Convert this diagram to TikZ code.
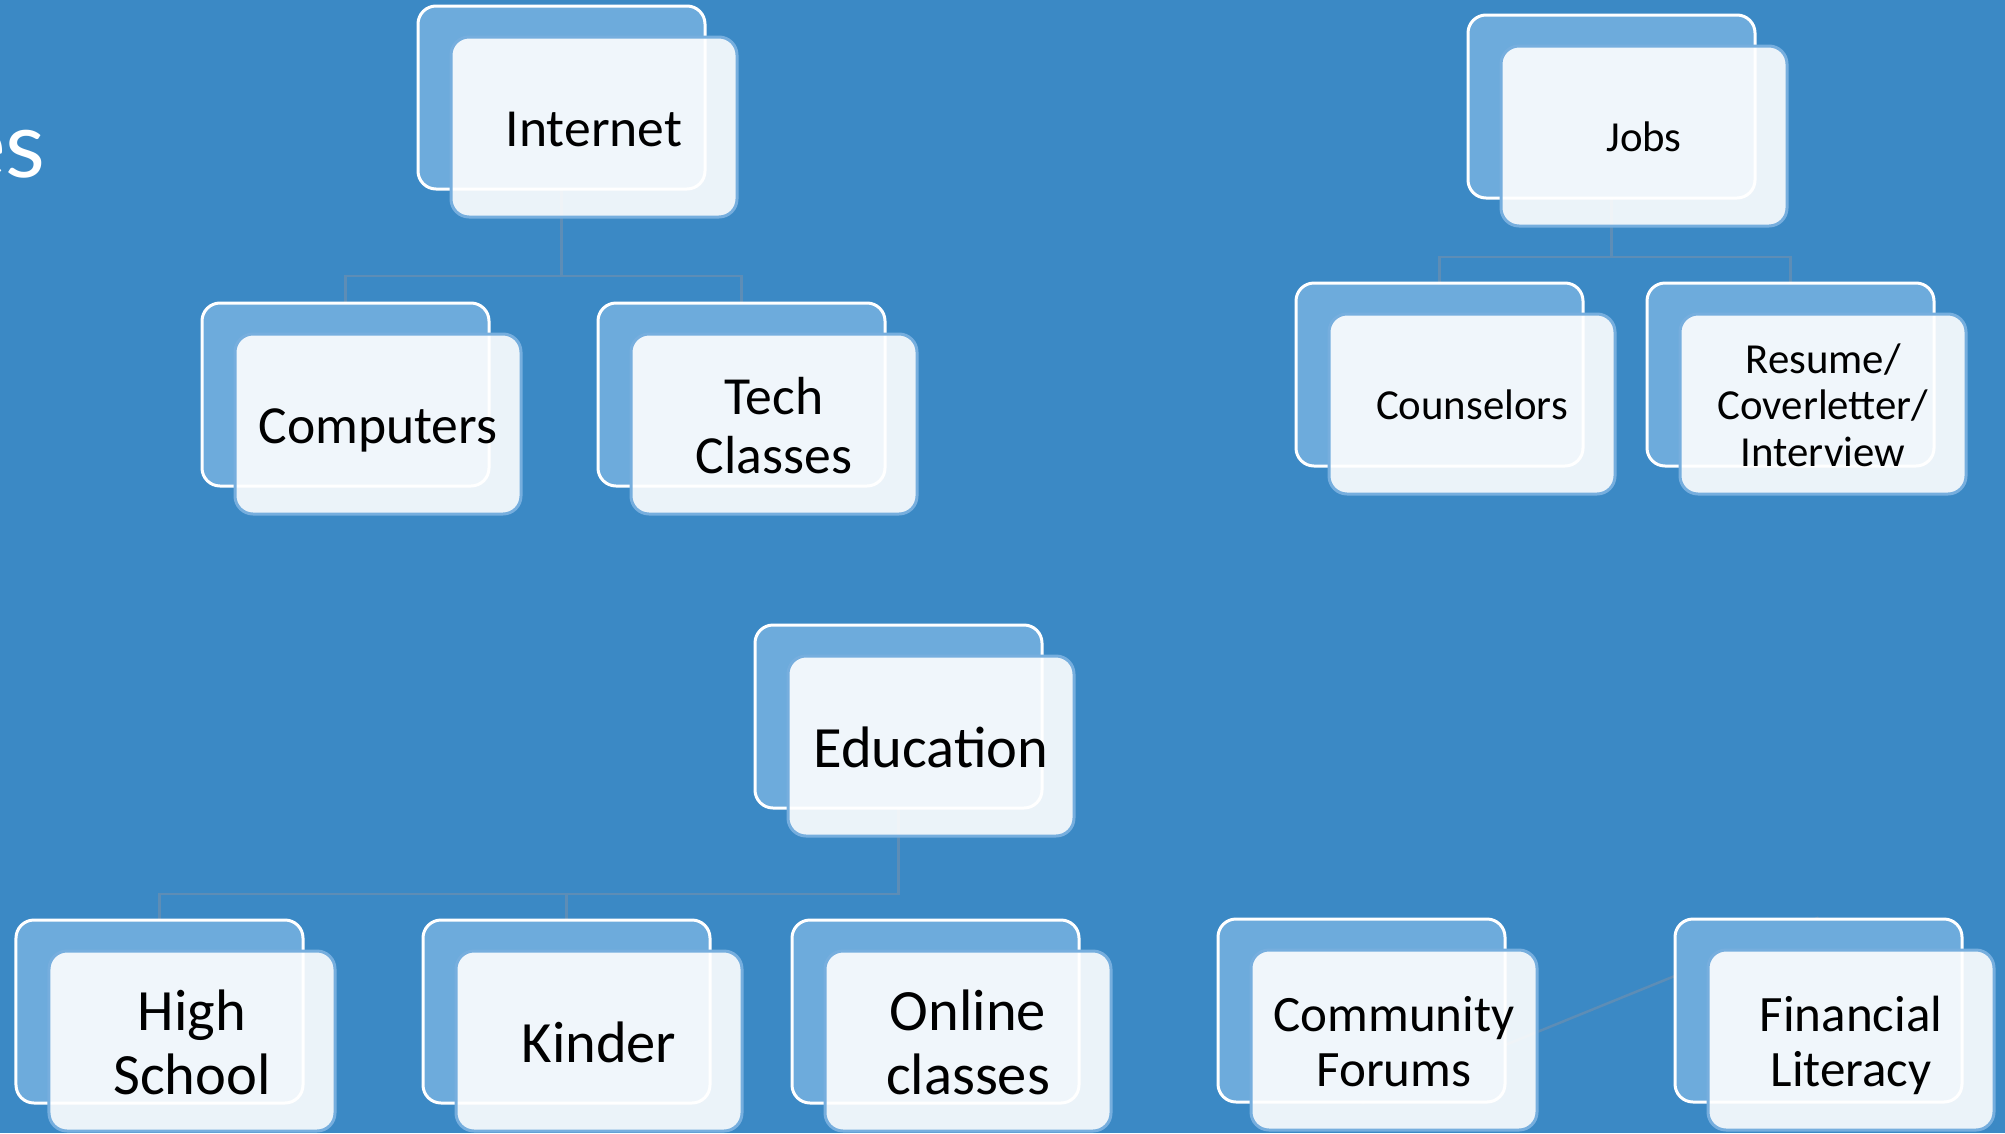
\documentclass[tikz,border=0pt]{standalone}
\usepackage{fontspec}
\setmainfont{Carlito}
\newfontfamily\titlefont{Lato}
\usetikzlibrary{backgrounds}
\definecolor{bgblue}{HTML}{3B89C5}
\definecolor{backfill}{HTML}{6DABDC}
\definecolor{frontline}{HTML}{76AEDE}
\definecolor{connline}{HTML}{5D8DB6}
\newcommand\lstrut{\rule[-0.165em]{0pt}{1.07em}}
\tikzset{
  backbox/.style={draw=white, line width=3bp, fill=backfill, rounded corners=18bp,
    minimum width=287bp, minimum height=183bp, inner sep=0pt},
  frontbox/.style={draw=frontline, line width=3bp, fill=white, fill opacity=0.9,
    text opacity=1, text=black, rounded corners=18bp,
    minimum width=286bp, minimum height=180bp, inner sep=0pt, align=center},
  conn/.style={draw=connline, line width=2.5bp},
  fA/.style={font=\fontsize{53.6bp}{56.5bp}\selectfont},
  fB/.style={font=\fontsize{42.8bp}{45.5bp}\selectfont},
  fC/.style={font=\fontsize{58.5bp}{61bp}\selectfont},
  fD/.style={font=\fontsize{51bp}{53.5bp}\selectfont},
  titletext/.style={anchor=base east, inner sep=0pt, text=white,
    font=\titlefont\fontsize{92bp}{92bp}\selectfont}
}
\newcommand\sabox[5]{%
  \node[backbox] (#1-b) at (#2+143.5,#3+91.5) {};
  \node[frontbox,#4] (#1) at (#2+176,#3+121) {#5};}
\begin{document}
\begin{tikzpicture}[x=1bp,y=-1bp]
\useasboundingbox (0,0) rectangle (2005,1133);
\begin{scope}[on background layer]
  \fill[bgblue] (0,0) rectangle (2005,1133);
\end{scope}
\clip (0,0) rectangle (2005,1133);

\node[titletext] (title) at (46,177) {es};

\sabox{inet}{418}{6}{fA}{\lstrut Internet}
\sabox{comp}{202}{303}{fA}{\lstrut Computers}
\sabox{tech}{598}{303}{fA}{\lstrut Tech\\\lstrut Classes}
\sabox{jobs}{1468}{15}{fB}{\lstrut Jobs}
\sabox{couns}{1296}{283}{fB}{\lstrut Counselors}
\sabox{resume}{1647}{283}{fB}{\lstrut Resume/\\\lstrut Coverletter/\\\lstrut Interview}
\sabox{edu}{755}{625}{fC}{\lstrut Education}
\sabox{high}{16}{920}{fC}{\lstrut High\\\lstrut School}
\sabox{kinder}{423}{920}{fC}{\lstrut Kinder}
\sabox{online}{792}{920}{fC}{\lstrut Online\\\lstrut classes}
\sabox{comm}{1218}{919}{fD}{\lstrut Community\\\lstrut Forums}
\sabox{fin}{1675}{919}{fD}{\lstrut Financial\\\lstrut Literacy}

\begin{scope}[on background layer]
  \draw[conn] (inet-b.center) -- (inet-b.center |- 0,276) -| (comp-b.center);
  \draw[conn] (inet-b.center) -- (inet-b.center |- 0,276) -| (tech-b.center);
  \draw[conn] (jobs-b.center) -- (jobs-b.center |- 0,257) -| (couns-b.center);
  \draw[conn] (jobs-b.center) -- (jobs-b.center |- 0,257) -| (resume-b.center);
  \draw[conn] (edu-b.center) -- (edu-b.center |- 0,894) -| (high-b.center);
  \draw[conn] (edu-b.center) -- (edu-b.center |- 0,894) -| (kinder-b.center);
  \draw[conn] (comm-b.south) -- (fin-b.north);
\end{scope}
\end{tikzpicture}
\end{document}
